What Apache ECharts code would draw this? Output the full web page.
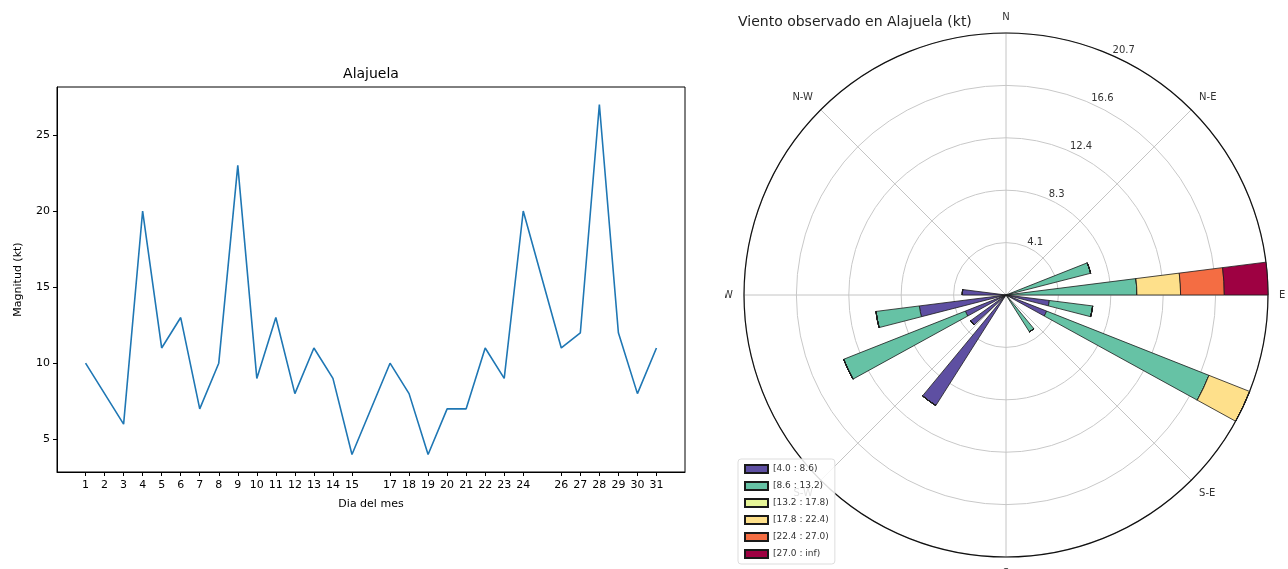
<!DOCTYPE html>
<html><head><meta charset="utf-8">
<script src="https://cdn.jsdelivr.net/npm/echarts@6/dist/echarts.min.js"></script>
<style>
html,body{margin:0;padding:0;background:#fff;}
#left{position:absolute;left:0;top:0;width:742px;height:569px;}
#right{position:absolute;left:725px;top:0;width:563px;height:569px;overflow:hidden;}
</style></head><body>
<div id="left"></div><div id="right"></div>
<script>
// ---- Line chart data ----
const days = [1,2,3,4,5,6,7,8,9,10,11,12,13,14,15,17,18,19,20,21,22,23,24,26,27,28,29,30,31];
const magnitudes = [10,8,6,20,11,13,7,10,23,9,13,8,11,9,4,10,8,4,7,7,11,9,20,11,12,27,12,8,11];
const yTicks = [5,10,15,20,25];

// ---- Wind rose data (frequency %, 25 direction sectors, compass degrees) ----
const sectorDeg = [0,14.4,28.8,43.2,57.6,72,86.4,100.8,115.2,129.6,144,158.4,172.8,187.2,201.6,216,230.4,244.8,259.2,273.6,288,302.4,316.8,331.2,345.6];
const binLabels = ['[4.0 : 8.6)','[8.6 : 13.2)','[13.2 : 17.8)','[17.8 : 22.4)','[22.4 : 27.0)','[27.0 : inf)'];
const freqBin1 = [0,0,0,0,0,0,0,3.45,3.45,0,0,0,0,0,0,10.34,3.45,3.45,6.90,3.45,0,0,0,0,0];
const freqBin2 = [0,0,0,0,0,6.90,10.34,3.45,13.79,0,3.45,0,0,0,0,0,0,10.34,3.45,0,0,0,0,0,0];
const freqBin3 = [0,0,0,0,0,0,0,0,0,0,0,0,0,0,0,0,0,0,0,0,0,0,0,0,0];
const freqBin4 = [0,0,0,0,0,0,3.45,0,3.45,0,0,0,0,0,0,0,0,0,0,0,0,0,0,0,0];
const freqBin5 = [0,0,0,0,0,0,3.45,0,0,0,0,0,0,0,0,0,0,0,0,0,0,0,0,0,0];
const freqBin6 = [0,0,0,0,0,0,3.45,0,0,0,0,0,0,0,0,0,0,0,0,0,0,0,0,0,0];
const ringMax = 20.69;
const dirNames = ['N','N-E','E','S-E','S','S-W','W','N-W'];

const binColors = ['#5e4fa2','#66c2a5','#e6f598','#fee08b','#f46d43','#9e0142'];
const FONT = 'DejaVu Sans';

// ---- Left chart ----
const left = echarts.init(document.getElementById('left'), null, {renderer:'canvas'});
left.setOption({
  animation:false,
  textStyle:{fontFamily:FONT},
  title:{text:'Alajuela', left:'center', top:62,
    textStyle:{fontFamily:FONT, fontSize:14, fontWeight:'normal', color:'#000'}},
  grid:{left:57, top:87, width:628, height:385, show:true, borderColor:'#000', borderWidth:1},
  xAxis:{type:'value', min:-0.5, max:32.5,
    name:'Dia del mes', nameLocation:'middle', nameGap:27,
    nameTextStyle:{fontFamily:FONT, fontSize:11, color:'#000'},
    axisLine:{show:true, onZero:false, lineStyle:{color:'#000'}},
    axisTick:{show:true, length:4, customValues:days, lineStyle:{color:'#000'}},
    axisLabel:{customValues:days, color:'#000', fontSize:11, margin:8, fontFamily:FONT},
    splitLine:{show:false}},
  yAxis:{type:'value', min:2.85, max:28.15,
    name:'Magnitud (kt)', nameLocation:'middle', nameGap:33,
    nameTextStyle:{fontFamily:FONT, fontSize:11, color:'#000'},
    axisLine:{show:true, onZero:false, lineStyle:{color:'#000'}},
    axisTick:{show:true, length:4, customValues:yTicks, lineStyle:{color:'#000'}},
    axisLabel:{customValues:yTicks, color:'#000', fontSize:11, margin:7, fontFamily:FONT},
    splitLine:{show:false}},
  series:[{type:'line', data:days.map((d,i)=>[d, magnitudes[i]]), symbol:'none',
    lineStyle:{color:'#1f77b4', width:1.6}}]
});

// ---- Right chart (wind rose) ----
const startSector = 2; // first category band starts at compass 21.6 deg
const rot = arr => arr.slice(startSector).concat(arr.slice(0, startSector));
const bins = [freqBin1,freqBin2,freqBin3,freqBin4,freqBin5,freqBin6];
const bandDeg = 360 / sectorDeg.length;
const startCompass = sectorDeg[startSector] - bandDeg/2;
const C = [281, 295], R = 262;
const ringLabelCompass = 24;

const right = echarts.init(document.getElementById('right'), null, {renderer:'canvas'});
right.setOption({
  animation:false,
  textStyle:{fontFamily:FONT},
  title:{text:'Viento observado en Alajuela (kt)', left:8, top:10,
    textStyle:{fontFamily:FONT, fontSize:14, fontWeight:'normal', color:'#222'}},
  legend:{orient:'vertical', left:13, top:459, itemWidth:23, itemHeight:8, itemGap:7,
    padding:[5,6], backgroundColor:'rgba(255,255,255,0.85)', borderColor:'#ddd', borderWidth:1, borderRadius:3,
    textStyle:{fontSize:9, color:'#333', fontFamily:FONT}, icon:'rect', data:binLabels, z:10},
  polar:[{center:C, radius:R},{center:C, radius:R},{center:C, radius:R}],
  angleAxis:[
    {polarIndex:0, type:'category', data:rot(sectorDeg.map(String)), startAngle:90 - startCompass,
      clockwise:true, boundaryGap:true, axisLine:{show:false}, axisTick:{show:false},
      axisLabel:{show:false}, splitLine:{show:false}},
    {polarIndex:1, type:'value', min:0, max:360, interval:45, startAngle:90, clockwise:true,
      axisLine:{show:true, lineStyle:{color:'#111', width:1.2}}, axisTick:{show:false},
      axisLabel:{formatter:v=>dirNames[Math.round(v/45)%8], fontSize:10, color:'#333', margin:11, fontFamily:FONT},
      splitLine:{show:true, lineStyle:{color:'#c4c4c4', width:1}}},
    {polarIndex:2, type:'value', min:0, max:360, startAngle:90 - ringLabelCompass, clockwise:true,
      axisLine:{show:false}, axisTick:{show:false}, axisLabel:{show:false}, splitLine:{show:false}}
  ],
  radiusAxis:[
    {polarIndex:0, type:'value', min:0, max:ringMax, interval:ringMax/5,
      axisLine:{show:false}, axisTick:{show:false}, axisLabel:{show:false},
      splitLine:{show:true, lineStyle:{color:'#c8c8c8', width:1}}},
    {polarIndex:1, type:'value', min:0, max:ringMax, show:false},
    {polarIndex:2, type:'value', min:0, max:ringMax, interval:ringMax/5,
      axisLine:{show:false}, axisTick:{show:false}, splitLine:{show:false},
      axisLabel:{formatter:v=> v < 0.01 ? '' : v.toFixed(1), fontSize:10, color:'#333', fontFamily:FONT,
        margin:0, align:'left', verticalAlign:'bottom'}}
  ],
  series: binLabels.map((name,i)=>({
    type:'bar', coordinateSystem:'polar', polarIndex:0, name, stack:'wind',
    data:rot(bins[i]), barWidth:'50%',
    itemStyle:{color:binColors[i], borderColor:'#1a1a1a', borderWidth:0.8},
    z:3
  }))
});
</script>
</body></html>
